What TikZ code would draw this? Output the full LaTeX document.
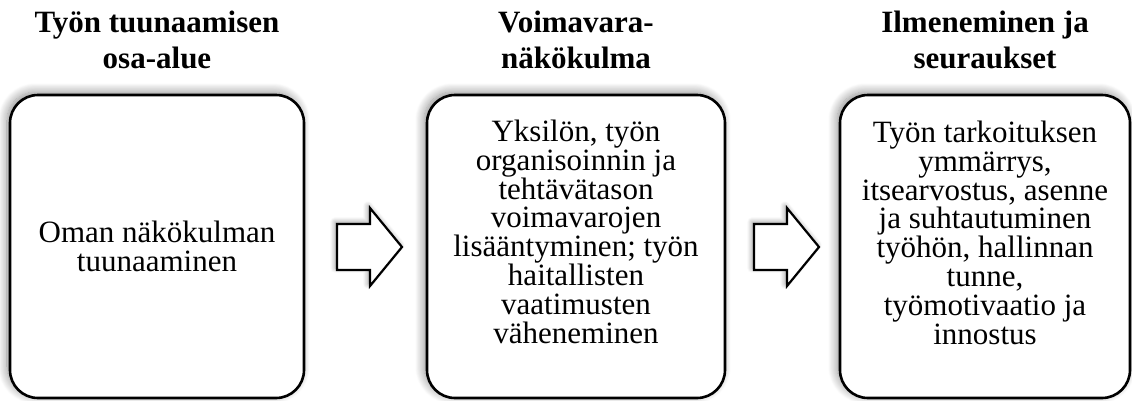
\documentclass[tikz,border=0pt]{standalone}
\usepackage{fontspec}
\setmainfont{Liberation Serif}
\usetikzlibrary{shadows.blur}
\tikzset{
  stage/.style={draw=black, line width=2.6pt, rounded corners=28pt, fill=white,
    inner sep=0pt,
    blur shadow={shadow xshift=-3pt, shadow yshift=3pt, shadow blur radius=9pt,
      shadow opacity=45, shadow blur steps=12}},
  head/.style={align=center, font=\fontsize{31}{36}\selectfont\bfseries, anchor=base, inner sep=0pt},
  body/.style={align=center, font=\fontsize{31}{28.8}\selectfont, anchor=base, inner sep=0pt},
  flow/.style={draw=black, line width=2.2pt, fill=white, line join=miter,
    blur shadow={shadow xshift=-2pt, shadow yshift=2pt, shadow blur radius=5pt,
      shadow opacity=40, shadow blur steps=8}}
}
\begin{document}
\begin{tikzpicture}[x=1pt, y=-1pt]
  \useasboundingbox (0,0) rectangle (1132,400);

  % column headings (anchored at the baseline of their last line)
  \node[head] (h1) at (157,68) {Työn tuunaamisen\\osa-alue};
  \node[head] (h2) at (576,68) {Voimavara-\\näkökulma};
  \node[head] (h3) at (985,68) {Ilmeneminen ja\\seuraukset};

  % stage boxes
  \node[stage, minimum width=294pt, minimum height=303pt] (b1) at (157,246.5) {};
  \node[stage, minimum width=298pt, minimum height=303pt] (b2) at (576,246.5) {};
  \node[stage, minimum width=290pt, minimum height=303pt] (b3) at (985,246.5) {};

  % box texts (anchored at the baseline of their last line)
  \node[body] (t1) at (157,271) {Oman näkökulman\\tuunaaminen};
  \node[body] (t2) at (576,343) {Yksilön, työn\\organisoinnin ja\\tehtävätason\\voimavarojen\\lisääntyminen; työn\\haitallisten\\vaatimusten\\väheneminen};
  \node[body] (t3) at (985,344) {Työn tarkoituksen\\ymmärrys,\\itsearvostus, asenne\\ja suhtautuminen\\työhön, hallinnan\\tunne,\\työmotivaatio ja\\innostus};

  % block arrows between the stages
  \coordinate (a1) at (337,247);
  \coordinate (a2) at (754,247);
  \foreach \a in {a1,a2}{
    \draw[flow] (\a) ++(0,-23) -- ++(33,0) -- ++(0,-16) -- ++(32,39)
      -- ++(-32,39) -- ++(0,-16) -- ++(-33,0) -- cycle;
  }
\end{tikzpicture}
\end{document}
